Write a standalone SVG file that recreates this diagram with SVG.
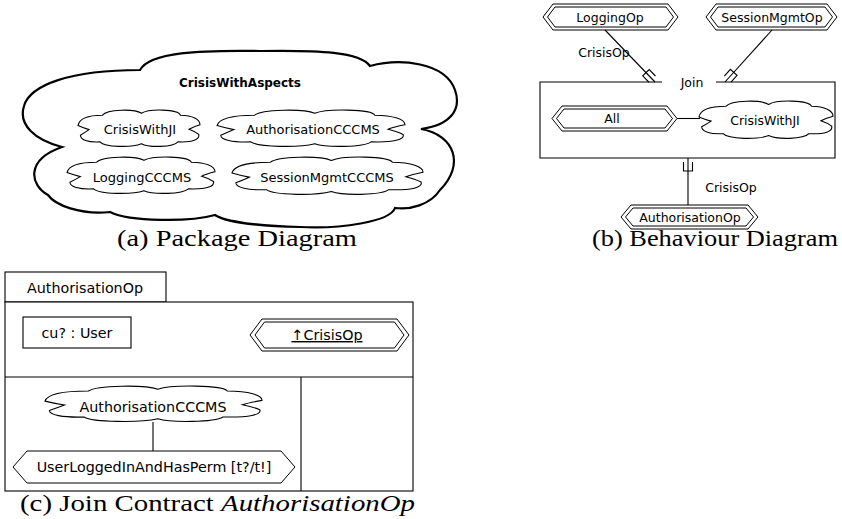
<svg xmlns="http://www.w3.org/2000/svg" width="842" height="519" viewBox="0 0 842 519">
<style>
text { font-family: "DejaVu Sans", "Liberation Sans", sans-serif; fill: #000; }
.t13 { font-size: 13px; text-anchor: middle; }
.t12 { font-size: 12.5px; text-anchor: middle; }
.t14 { font-size: 14.3px; text-anchor: middle; }
.bold { font-size: 12px; font-weight: bold; text-anchor: middle; }
.cap { font-family: "Liberation Serif", "DejaVu Serif", serif; font-size: 23px; }
.ln { fill: none; stroke: #000; stroke-width: 1.1; }
.box { fill: #fff; stroke: #000; stroke-width: 1.1; }
.hex { fill: #fff; stroke: #000; stroke-width: 1; }
.big { fill: #fff; stroke: #000; stroke-width: 2.2; }
</style>
<defs>
<symbol id="cloud" viewBox="0 0 100 100" preserveAspectRatio="none" overflow="visible">
<path fill="#fff" stroke="#000" stroke-width="1.1" vector-effect="non-scaling-stroke" d="M0,42 C1,24 8,14 20,14 C24,-2 46,-4 52,9 C58,-4 82,-3 84,14 C94,14 100,26 100,40 Q94,46 91,52 Q96,58 99,66 C100,80 94,88 82,86 C78,101 58,102 52,91 C44,102 22,101 18,86 C8,88 2,80 2,68 Q6,60 9,53 Q4,48 0,42 Z"/>
</symbol>
</defs>

<!-- (a) Package diagram -->
<g id="pkg-CrisisWithAspects">
<path class="big" d="M62,147 C35,140 18,125 24,106 C30,85 70,70 140,70 C150,52 200,50 260,51 C320,50 360,52 370,66 C400,58 445,62 455,90 C462,110 450,125 421,129 C455,135 465,165 440,190 C430,205 410,210 395,208 C390,222 340,229 300,227 C260,226 225,222 215,215 C190,222 130,222 110,212 C80,215 55,205 48,195 C30,185 25,160 62,147 Z"/>
<text class="bold" x="240" y="87">CrisisWithAspects</text>
</g>
<g id="pkg-CrisisWithJI">
<use href="#cloud" x="78" y="110" width="122" height="37"/>
<text class="t13" x="140" y="133.5">CrisisWithJI</text>
</g>
<g id="pkg-AuthorisationCCCMS">
<use href="#cloud" x="217" y="110" width="188" height="37"/>
<text class="t13" x="313" y="133.5">AuthorisationCCCMS</text>
</g>
<g id="pkg-LoggingCCCMS">
<use href="#cloud" x="67" y="157" width="148" height="37"/>
<text class="t13" x="142" y="181.5">LoggingCCCMS</text>
</g>
<g id="pkg-SessionMgmtCCCMS">
<use href="#cloud" x="232" y="157" width="191" height="38"/>
<text class="t13" x="327" y="181.5">SessionMgmtCCCMS</text>
</g>
<text class="cap" x="117" y="246" textLength="240" lengthAdjust="spacingAndGlyphs">(a) Package Diagram</text>

<!-- (b) Behaviour diagram -->
<g id="b-Join">
<path class="ln" d="M662,82 H540 V158 H835 V82 H716"/>
<text class="t12" x="692" y="86.5">Join</text>
</g>
<g id="b-LoggingOp">
<polygon class="hex" points="543,17 553,4 668,4 678,17 668,30 553,30"/>
<polygon class="hex" points="547.5,17 555,7 666,7 673.5,17 666,27 555,27"/>
<text class="t12" x="610" y="21.5">LoggingOp</text>
</g>
<g id="b-SessionMgmtOp">
<polygon class="hex" points="706,17 716,4 827,4 837,17 827,30 716,30"/>
<polygon class="hex" points="710.5,17 718,7 825,7 832.5,17 825,27 718,27"/>
<text class="t12" x="772" y="21.5">SessionMgmtOp</text>
</g>
<g id="b-All">
<polygon class="hex" points="552,118.5 562,106 667,106 677,118.5 667,131 562,131"/>
<polygon class="hex" points="556.5,118.5 564,109 665,109 672.5,118.5 665,128 564,128"/>
<text class="t12" x="612" y="123">All</text>
</g>
<g id="b-CrisisWithJI">
<use href="#cloud" x="699" y="101" width="134" height="38"/>
<text class="t12" x="765" y="124.5">CrisisWithJI</text>
</g>
<g id="b-AuthorisationOp">
<polygon class="hex" points="621,217 631,205 748,205 758,217 748,229 631,229"/>
<polygon class="hex" points="625.5,217 633,208 746,208 753.5,217 746,226 633,226"/>
<text class="t12" x="690" y="221.5">AuthorisationOp</text>
</g>
<text class="cap" x="592" y="246" textLength="246" lengthAdjust="spacingAndGlyphs">(b) Behaviour Diagram</text>

<!-- (c) Join contract -->
<g id="c-frame">
<rect class="box" x="5" y="272" width="161" height="30"/>
<rect class="box" x="5" y="302" width="408" height="189"/>
<path class="ln" d="M5,377 H413 M301,377 V491"/>
<text class="t14" x="85" y="293">AuthorisationOp</text>
</g>
<g id="c-cu">
<rect class="box" x="23" y="317" width="108" height="31"/>
<text class="t14" x="77" y="338">cu? : User</text>
</g>
<g id="c-CrisisOp">
<polygon class="hex" points="250,335 262,319 397,319 409,335 397,351 262,351"/>
<polygon class="hex" points="255,335 264.5,322 394.5,322 404,335 394.5,348 264.5,348"/>
<text class="t14" x="327" y="340" text-decoration="underline">↑CrisisOp</text>
</g>
<g id="c-AuthorisationCCCMS">
<use href="#cloud" x="45" y="386" width="217" height="36"/>
<text class="t14" x="153" y="412">AuthorisationCCCMS</text>
</g>
<g id="c-UserLoggedInAndHasPerm">
<polygon class="hex" points="13,467 27,451 281,451 295,467 281,483 27,483"/>
<text class="t14" x="154" y="472">UserLoggedInAndHasPerm [t?/t!]</text>
</g>
<text class="cap" x="20" y="511" textLength="395" lengthAdjust="spacingAndGlyphs">(c) Join Contract <tspan font-style="italic">AuthorisationOp</tspan></text>

<!-- connectors -->
<g id="connectors">
<path class="ln" d="M605,30 L655,82"/>
<g transform="translate(655,82) rotate(136)"><path class="ln" d="M-4.5,4 V13 H4.5 V4"/></g>
<path class="ln" d="M772,30 L725,82"/>
<g transform="translate(725,82) rotate(-138)"><path class="ln" d="M-4.5,4 V13 H4.5 V4"/></g>
<path class="ln" d="M688,158 V205"/>
<path class="ln" d="M683.5,162 V171 H692.5 V162"/>
<path class="ln" d="M677,118.5 H700"/>
<path class="ln" d="M153,422 V451"/>
<text class="t12" x="604" y="56.5">CrisisOp</text>
<text class="t12" x="731" y="191.5">CrisisOp</text>
</g>
</svg>
